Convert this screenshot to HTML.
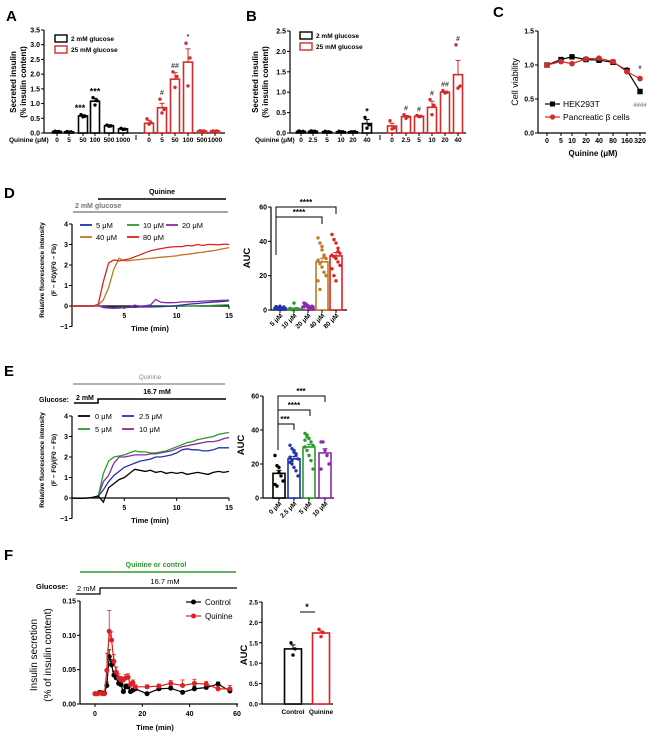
<!DOCTYPE html>
<html><head><meta charset="utf-8"><style>
html,body{margin:0;padding:0;background:#fff;}
svg{display:block;font-family:"Liberation Sans",Arial,sans-serif;}
</style></head><body>
<svg id="fig" width="669" height="739" viewBox="0 0 669 739">
<g font-weight="bold" font-size="15">
<text x="6" y="21">A</text>
<text x="246" y="21">B</text>
<text x="493" y="17">C</text>
<text x="4" y="198">D</text>
<text x="4" y="376">E</text>
<text x="4" y="560">F</text>
</g>
</svg>
<script>
// ---------- DATA ----------
const aDoses = ["0","5","50","100","500","1000"];
const aLow = [0.05,0.04,0.58,1.08,0.25,0.14];
const aLowErr = [0.02,0.01,0.04,0.1,0.03,0.02];
const aLowPts = [[0.06,0.05,0.04],[0.05,0.04,0.03],[0.62,0.57,0.55],[1.2,1.1,0.95],[0.27,0.24,0.23],[0.16,0.13,0.12]];
const aHigh = [0.33,0.86,1.83,2.41,0.07,0.07];
const aHighErr = [0.1,0.15,0.22,0.45,0.01,0.01];
const aHighPts = [[0.48,0.35,0.3],[1.15,0.8,0.68],[2.08,1.92,1.55],[3.05,2.55,1.6],[0.08,0.07,0.06],[0.07,0.07,0.06]];
const aLowSig = ["","","***","***","",""];
const aHighSig = ["","#","##","*","",""];

const bDoses = ["0","2.5","5","10","20","40"];
const bLow = [0.04,0.04,0.03,0.03,0.03,0.23];
const bLowErr = [0.01,0.01,0.01,0.01,0.01,0.1];
const bLowPts = [[0.05,0.04,0.03],[0.05,0.04,0.04],[0.04,0.03,0.03],[0.04,0.03,0.03],[0.03,0.03,0.03],[0.38,0.2,0.12]];
const bHigh = [0.17,0.4,0.41,0.63,1.0,1.43];
const bHighErr = [0.07,0.03,0.02,0.15,0.02,0.35];
const bHighPts = [[0.3,0.12,0.1],[0.45,0.4,0.36],[0.43,0.41,0.4],[0.82,0.68,0.45],[1.04,1.0,0.98],[2.16,1.15,1.1]];
const bLowSig = ["","","","","","*"];
const bHighSig = ["","#","#","#","##","#"];

const cDoses = ["0","5","10","20","40","80","160","320"];
const cHek = [1.0,1.08,1.12,1.08,1.07,1.04,0.92,0.61];
const cHekErr = [0.01,0.02,0.02,0.02,0.03,0.02,0.05,0.04];
const cBeta = [1.0,1.05,1.02,1.09,1.1,1.05,0.9,0.8];
const cBetaErr = [0.01,0.04,0.02,0.03,0.02,0.02,0.04,0.04];

const dTime = [0,0.5,1,1.5,2,2.5,3,3.5,4,4.5,5,5.5,6,6.5,7,7.5,8,8.5,9,9.5,10,10.5,11,11.5,12,12.5,13,13.5,14,14.5,15];
const d5 = [0,0,0,0,0,0.02,-0.04,-0.06,-0.07,-0.08,-0.08,-0.07,-0.06,-0.05,-0.05,-0.05,-0.04,-0.03,-0.02,0,0.02,0.05,0.08,0.1,0.12,0.15,0.17,0.19,0.21,0.23,0.25];
const d10 = [0,0,0,0,0,0.02,-0.03,-0.05,-0.06,-0.06,-0.06,-0.05,-0.05,-0.04,-0.04,-0.03,-0.03,-0.03,-0.02,-0.02,-0.01,-0.01,0,0,0.01,0.02,0.02,0.03,0.04,0.05,0.06];
const d20 = [0,0,0,0,0,0.03,-0.08,-0.1,-0.11,-0.1,-0.08,-0.06,0.05,-0.02,0.02,0.05,0.32,0.18,0.16,0.16,0.17,0.2,0.2,0.21,0.22,0.24,0.25,0.26,0.27,0.28,0.29];
const d40 = [0,0,0,0,0,0.05,0.3,0.9,1.8,2.33,2.2,2.21,2.25,2.27,2.3,2.32,2.35,2.38,2.4,2.42,2.45,2.5,2.52,2.55,2.6,2.62,2.67,2.7,2.75,2.8,2.85];
const d80 = [0,0,0,0,0,0.08,1.2,2.1,2.25,2.2,2.25,2.3,2.4,2.5,2.6,2.7,2.75,2.8,2.85,2.88,2.9,2.9,2.95,2.93,3.0,2.95,3.0,3.0,2.98,3.02,3.0];

const dAucCats = ["5 μM","10 μM","20 μM","40 μM","80 μM"];
const dAuc = [1.2,0.8,2.0,28,31.5];
const dAucErr = [0.3,0.3,0.4,2.2,2.0];
const dAucPts = [[2,1.5,1,0.5,1.8,1.2,0.7,2.2,1,0.5,1.5,0.8],[0.5,0.3,4,0.6,0.4,1,0.2,0.5,0.8,0.6],[4,3,2.5,1,0.8,2,3.5,1.5,0.5,2.2,1.8,3],[42,39,37,32,30,29,27,25,22,20,17,12,35,31],[44,41,39,36,33,32,31,30,28,26,24,20,17,34]];

const eTime = dTime;
const e0 = [0,-0.02,-0.02,0,0.03,0.1,-0.2,0.5,0.7,0.9,1.0,1.2,1.4,1.35,1.3,1.35,1.25,1.3,1.2,1.25,1.2,1.25,1.15,1.2,1.25,1.2,1.15,1.25,1.3,1.25,1.3];
const e25 = [0,-0.02,-0.02,0,0.03,0.08,0.4,0.8,1.1,1.3,1.5,1.6,1.7,1.8,1.85,1.9,2.0,2.0,2.05,2.1,2.2,2.35,2.4,2.35,2.35,2.3,2.3,2.35,2.45,2.45,2.45];
const e5 = [0,-0.02,-0.02,0,0.03,0.08,1.2,1.8,2.0,2.05,2.1,2.2,2.3,2.25,2.25,2.2,2.2,2.25,2.3,2.4,2.5,2.6,2.7,2.75,2.85,2.9,2.95,3.0,3.1,3.15,3.2];
const e10 = [0,-0.02,-0.02,0,0.03,0.08,0.8,1.1,1.7,2.0,2.0,2.05,2.1,2.1,2.1,2.15,2.15,2.2,2.25,2.3,2.4,2.5,2.55,2.6,2.65,2.7,2.75,2.75,2.8,2.9,2.95];

const eAucCats = ["0 μM","2.5 μM","5 μM","10 μM"];
const eAuc = [14.5,23,30,26.5];
const eAucErr = [1.8,1.5,1.6,2.5];
const eAucPts = [[25,19,15,13,10,8,7,18],[31,29,27,25,23,21,20,18,16,13,24,22,28,26],[38,37,35,33,31,30,28,25,22,17,34,36],[33,33,28,25,20,17]];

const fTime = [0,1,2,3,4,5,6,7,8,9,10,11,12,13,14,15,16,17,22,27,32,37,42,47,52,57];
const fCtrl = [0.015,0.015,0.017,0.016,0.016,0.027,0.069,0.057,0.042,0.038,0.03,0.028,0.018,0.025,0.025,0.018,0.02,0.022,0.015,0.022,0.023,0.017,0.022,0.024,0.029,0.019];
const fCtrlErr = [0.001,0.001,0.002,0.002,0.002,0.005,0.01,0.008,0.006,0.01,0.005,0.004,0.003,0.004,0.004,0.002,0.003,0.003,0.002,0.003,0.003,0.002,0.004,0.004,0.003,0.003];
const fQui = [0.015,0.015,0.016,0.015,0.015,0.049,0.106,0.093,0.062,0.046,0.038,0.035,0.035,0.038,0.039,0.028,0.031,0.025,0.025,0.026,0.03,0.027,0.03,0.029,0.022,0.022];
const fQuiErr = [0.001,0.001,0.002,0.002,0.002,0.025,0.03,0.012,0.01,0.008,0.006,0.005,0.004,0.005,0.005,0.004,0.004,0.003,0.003,0.003,0.004,0.008,0.006,0.004,0.004,0.005];
const fAucCats = ["Control","Quinine"];
const fAuc = [1.35,1.74];
const fAucErr = [0.1,0.05];
const fAucPts = [[1.5,1.35,1.2],[1.83,1.75,1.65]];

// ---------- HELPERS ----------
const svg = document.getElementById('fig');
const NS = 'http://www.w3.org/2000/svg';
function mk(tag, attrs, name, parent, txt){
  const e = document.createElementNS(NS, tag);
  for (const k in attrs) e.setAttribute(k, attrs[k]);
  
  
  if (txt !== undefined) e.textContent = txt;
  (parent || svg).appendChild(e);
  return e;
}
function lin(d0,d1,r0,r1){ return v => r0 + (v-d0)*(r1-r0)/(d1-d0); }
function line(x1,y1,x2,y2,name,st,w){ return mk('line',{x1,y1,x2,y2,stroke:st||'#000','stroke-width':w||1},name); }
function txt(x,y,s,name,o){ o=o||{}; return mk('text',{x,y,'font-size':o.fs||7,'font-weight':o.fw||'bold','text-anchor':o.a||'middle',fill:o.c||'#000',transform:o.r?`rotate(${o.r} ${x} ${y})`:''},name,null,s); }
function yAxis(x,y,ticks,labels,name,fs){
  line(x,y(ticks[0]),x,y(ticks[ticks.length-1]),name+'-line','#000',1.2);
  ticks.forEach((t,i)=>{ line(x-3,y(t),x,y(t),name+'-tick'); txt(x-4,y(t)+2.5,labels[i],name+'-tick-label',{a:'end',fs:fs||7}); });
}
function bars(xs, vals, errs, pts, y, col, w, name){
  vals.forEach((v,i)=>{
    const x = xs[i];
    mk('rect',{x:x-w/2,y:y(v),width:w,height:Math.max(0,y(0)-y(v)),fill:'#fff',stroke:col,'stroke-width':1.6},name+'-bar');
    line(x,y(v),x,y(v+errs[i]),name+'-error-bar',col,1);
    line(x-2.5,y(v+errs[i]),x+2.5,y(v+errs[i]),name+'-error-cap',col,1);
    const p = pts[i], n = p.length;
    p.forEach((pv,j)=>{
      const off = n<=3 ? [-2,2,0][j] : ((j%5)-2)*(w/6);
      mk('circle',{cx:x+off,cy:y(pv),r:1.7,fill:col},name+'-point');
    });
  });
}
function series(xs, vals, xf, yf, col, name, w){
  const d = vals.map((v,i)=>(i?'L':'M')+xf(xs[i]).toFixed(1)+' '+yf(v).toFixed(1)).join(' ');
  mk('path',{d,fill:'none',stroke:col,'stroke-width':w||1.3},name);
}

// ---------- PANEL A ----------
const yA = lin(0,3.5,133,30);
const aLowX = [57,69,83,95,109,123], aHighX = [149,162,175,188,202,215];
yAxis(44,yA,[0,0.5,1,1.5,2,2.5,3,3.5],["0.0","0.5","1.0","1.5","2.0","2.5","3.0","3.5"],'a-y-axis');
line(44,133,225,133,'a-x-axis','#000',1.2);
line(136,135,136,140,'a-axis-break');
bars(aLowX,aLow,aLowErr,aLowPts,yA,'#000',9,'a-2mm');
bars(aHighX,aHigh,aHighErr,aHighPts,yA,'#d42a2a',9,'a-25mm');
aDoses.forEach((d,i)=>{ txt(aLowX[i],142,d,'a-x-tick-label',{fs:6.5}); txt(aHighX[i],142,d,'a-x-tick-label',{fs:6.5}); line(aLowX[i],133,aLowX[i],136,'a-x-tick'); line(aHighX[i],133,aHighX[i],136,'a-x-tick'); });
aLowSig.forEach((s,i)=>{ if(s) txt(aLowX[i]-(i==2?3:0),yA(aLow[i]+aLowErr[i])-4,s,'a-significance',{fs:9}); });
aHighSig.forEach((s,i)=>{ if(s) txt(aHighX[i],yA(Math.max(...aHighPts[i],aHigh[i]+aHighErr[i]))-4,s,'a-significance',{fs:7,c:'#444'}); });
txt(9,142,'Quinine (μM)','a-x-title',{a:'start',fs:6.5});
txt(16,82,'Secreted insulin','a-y-title',{r:-90,fs:8});
txt(26,82,'(% insulin content)','a-y-title',{r:-90,fs:8});
mk('rect',{x:55,y:35,width:12,height:7,fill:'#fff',stroke:'#000','stroke-width':1.4},'a-legend-2mm-swatch');
txt(71,41,'2 mM glucose','a-legend-2mm',{a:'start',fs:6.5});
mk('rect',{x:55,y:46,width:12,height:7,fill:'#fff',stroke:'#d42a2a','stroke-width':1.4},'a-legend-25mm-swatch');
txt(71,52,'25 mM glucose','a-legend-25mm',{a:'start',fs:6.5});

// ---------- PANEL B ----------
const yB = lin(0,2.5,133,31);
const bLowX = [301,313,327,341,353,367], bHighX = [392,406,419,432,445,458];
yAxis(290,yB,[0,0.5,1,1.5,2,2.5],["0.0","0.5","1.0","1.5","2.0","2.5"],'b-y-axis');
line(290,133,466,133,'b-x-axis','#000',1.2);
line(380,135,380,140,'b-axis-break');
bars(bLowX,bLow,bLowErr,bLowPts,yB,'#000',9,'b-2mm');
bars(bHighX,bHigh,bHighErr,bHighPts,yB,'#d42a2a',9,'b-25mm');
bDoses.forEach((d,i)=>{ txt(bLowX[i],142,d,'b-x-tick-label',{fs:6.5}); txt(bHighX[i],142,d,'b-x-tick-label',{fs:6.5}); line(bLowX[i],133,bLowX[i],136,'b-x-tick'); line(bHighX[i],133,bHighX[i],136,'b-x-tick'); });
bLowSig.forEach((s,i)=>{ if(s) txt(bLowX[i],yB(Math.max(...bLowPts[i]))-3,s,'b-significance',{fs:9}); });
bHighSig.forEach((s,i)=>{ if(s) txt(bHighX[i],yB(Math.max(...bHighPts[i],bHigh[i]+bHighErr[i]))-4,s,'b-significance',{fs:7,c:'#444'}); });
txt(255,142,'Quinine (μM)','b-x-title',{a:'start',fs:6.5});
txt(258,82,'Secreted insulin','b-y-title',{r:-90,fs:8});
txt(268,82,'(% insulin content)','b-y-title',{r:-90,fs:8});
mk('rect',{x:300,y:32,width:12,height:7,fill:'#fff',stroke:'#000','stroke-width':1.4},'b-legend-2mm-swatch');
txt(316,38,'2 mM glucose','b-legend-2mm',{a:'start',fs:6.5});
mk('rect',{x:300,y:43,width:12,height:7,fill:'#fff',stroke:'#d42a2a','stroke-width':1.4},'b-legend-25mm-swatch');
txt(316,49,'25 mM glucose','b-legend-25mm',{a:'start',fs:6.5});

// ---------- PANEL C ----------
const yC = lin(0,1.5,133,31);
const cX = [547,561,572,586,599,613,627,640];
const xC = i => cX[i];
yAxis(538,yC,[0,0.5,1,1.5],["0.0","0.5","1.0","1.5"],'c-y-axis');
line(538,133,646,133,'c-x-axis','#000',1.2);
cDoses.forEach((d,i)=>{ line(cX[i],133,cX[i],136,'c-x-tick'); txt(cX[i],143,d,'c-x-tick-label',{fs:7}); });
function lineSeries(vals, errs, col, name, marker){
  series(cDoses.map((_,i)=>i), vals, xC, yC, col, name+'-line', 1.2);
  vals.forEach((v,i)=>{
    line(cX[i],yC(v-errs[i]),cX[i],yC(v+errs[i]),name+'-error-bar',col,1);
    if(marker==='sq') mk('rect',{x:cX[i]-2.7,y:yC(v)-2.7,width:5.4,height:5.4,fill:col},name+'-marker');
    else mk('circle',{cx:cX[i],cy:yC(v),r:2.8,fill:col},name+'-marker');
  });
}
lineSeries(cHek,cHekErr,'#000','c-hek293t','sq');
lineSeries(cBeta,cBetaErr,'#d42a2a','c-beta-cells','c');
txt(640,72,'*','c-significance',{fs:9,fw:'normal'});
txt(640,107,'####','c-significance-hash',{fs:6,fw:'normal',c:'#555'});
txt(518,82,'Cell viability','c-y-title',{r:-90,fs:9,fw:'normal'});
txt(593,156,'Quinine (μM)','c-x-title',{fs:8});
line(545,104,560,104,'c-legend-hek-line','#000',1.2);
mk('rect',{x:550,y:101.5,width:5,height:5,fill:'#000'},'c-legend-hek-marker');
txt(563,107,'HEK293T','c-legend-hek',{a:'start',fs:8.5,fw:'normal'});
line(545,117,560,117,'c-legend-beta-line','#d42a2a',1.2);
mk('circle',{cx:552.5,cy:117,r:2.6,fill:'#d42a2a'},'c-legend-beta-marker');
txt(563,120,'Pancreatic β cells','c-legend-beta',{a:'start',fs:8.5,fw:'normal'});

// ---------- PANEL D ----------
const xD = lin(0,15,72,229), yD = lin(0,4,306,224);
yAxis(72,yD,[-1,0,1,2,3,4],["−1","0","1","2","3","4"],'d-y-axis',7);
line(72,306,229,306,'d-x-axis','#000',1.2);
[5,10,15].forEach(t=>{ line(xD(t),306,xD(t),309,'d-x-tick'); txt(xD(t),318,String(t),'d-x-tick-label'); });
line(72,306,229,306,'d-0um-line','#000',1);
series(dTime,d10,xD,yD,'#2a9a2a','d-10um-line');
series(dTime,d5,xD,yD,'#2233aa','d-5um-line');
series(dTime,d20,xD,yD,'#8a2aa8','d-20um-line');
series(dTime,d40,xD,yD,'#c07a20','d-40um-line');
series(dTime,d80,xD,yD,'#e02020','d-80um-line');
txt(150,331,'Time (min)','d-x-title',{fs:7.5});
txt(44,270,'Relative fluorescence intensity','d-y-title',{r:-90,fs:6.5});
txt(56,270,'(F − F0)/(F0 − Fb)','d-y-title',{r:-90,fs:6.5});
line(98,199,226,199,'d-quinine-bar','#000',1.5);
txt(162,194,'Quinine','d-quinine-label',{fs:7});
line(73,212,228,212,'d-glucose-bar','#888',1.5);
txt(75,208,'2 mM glucose','d-glucose-label',{a:'start',fs:7,c:'#777'});
[[80,225,'#2233aa','5 μM'],[127,225,'#2a9a2a','10 μM'],[166,225,'#8a2aa8','20 μM'],[80,237,'#c07a20','40 μM'],[127,237,'#e02020','80 μM']].forEach(l=>{
  line(l[0],l[1],l[0]+12,l[1],'d-legend-swatch',l[2],1.8);
  txt(l[0]+16,l[1]+3,l[3],'d-legend-label',{a:'start',fs:7.5,fw:'normal'});
});
// D AUC
const yDa = lin(0,60,310,207);
const dAx = [280,294,308,322,336];
yAxis(271,yDa,[0,20,40,60],["0","20","40","60"],'d-auc-y-axis');
line(271,310,347,310,'d-auc-x-axis','#000',1.2);
const dCols = ['#2233aa','#2a9a2a','#8a2aa8','#c07a20','#e02020'];
dAucCats.forEach((c,i)=>{
  bars([dAx[i]],[dAuc[i]],[dAucErr[i]],[dAucPts[i]],yDa,dCols[i],12,'d-auc');
  line(dAx[i],310,dAx[i],313,'d-auc-x-tick');
  txt(dAx[i]+3,316,c,'d-auc-x-tick-label',{a:'end',fs:6.5,r:-45});
});
txt(250,258,'AUC','d-auc-y-title',{r:-90,fs:9.5});
mk('path',{d:'M276 255 V207 H336 V214',fill:'none',stroke:'#000','stroke-width':1},'d-auc-bracket-80');
mk('path',{d:'M276 217 H322 V224',fill:'none',stroke:'#000','stroke-width':1},'d-auc-bracket-40');
txt(306,205,'****','d-auc-significance',{fs:8});
txt(299,215,'****','d-auc-significance',{fs:8});

// ---------- PANEL E ----------
const xE = lin(0,15,72,229), yE = lin(0,4,498,416);
yAxis(72,yE,[-1,0,1,2,3,4],["−1","0","1","2","3","4"],'e-y-axis',7);
line(72,498,229,498,'e-x-axis','#000',1.2);
[5,10,15].forEach(t=>{ line(xE(t),498,xE(t),501,'e-x-tick'); txt(xE(t),510,String(t),'e-x-tick-label'); });
series(eTime,e25,xE,yE,'#2233aa','e-2-5um-line');
series(eTime,e10,xE,yE,'#8a2aa8','e-10um-line');
series(eTime,e5,xE,yE,'#2a9a2a','e-5um-line');
series(eTime,e0,xE,yE,'#000','e-0um-line');
txt(150,523,'Time (min)','e-x-title',{fs:7.5});
txt(44,460,'Relative fluorescence intensity','e-y-title',{r:-90,fs:6.5});
txt(56,460,'(F − F0)/(F0 − Fb)','e-y-title',{r:-90,fs:6.5});
line(73,384,225,384,'e-quinine-bar','#999',1.5);
txt(150,379,'Quinine','e-quinine-label',{fs:6.5,fw:'normal',c:'#888'});
txt(39,402,'Glucose:','e-glucose-label',{a:'start',fs:7});
mk('path',{d:'M74 403 H98 V399 H226',fill:'none',stroke:'#000','stroke-width':1.5},'e-glucose-bar');
txt(76,400,'2 mM','e-glucose-2mm',{a:'start',fs:7});
txt(157,394,'16.7 mM','e-glucose-16mm',{fs:7});
[[78,416,'#000','0 μM'],[122,416,'#2233aa','2.5 μM'],[78,429,'#2a9a2a','5 μM'],[122,429,'#8a2aa8','10 μM']].forEach(l=>{
  line(l[0],l[1],l[0]+12,l[1],'e-legend-swatch',l[2],1.8);
  txt(l[0]+17,l[1]+3,l[3],'e-legend-label',{a:'start',fs:7.5,fw:'normal'});
});
// E AUC
const yEa = lin(0,60,498,396);
const eAx = [279,294,309,325];
yAxis(263,yEa,[0,20,40,60],["0","20","40","60"],'e-auc-y-axis');
line(263,498,334,498,'e-auc-x-axis','#000',1.2);
const eCols = ['#000','#2233aa','#2a9a2a','#8a2aa8'];
eAucCats.forEach((c,i)=>{
  bars([eAx[i]],[eAuc[i]],[eAucErr[i]],[eAucPts[i]],yEa,eCols[i],12,'e-auc');
  line(eAx[i],498,eAx[i],501,'e-auc-x-tick');
  txt(eAx[i]+3,504,c,'e-auc-x-tick-label',{a:'end',fs:6.5,r:-45});
});
txt(244,445,'AUC','e-auc-y-title',{r:-90,fs:9.5});
mk('path',{d:'M278 450 V396 H325 V402',fill:'none',stroke:'#000','stroke-width':1},'e-auc-bracket-10');
mk('path',{d:'M278 410 H310 V416',fill:'none',stroke:'#000','stroke-width':1},'e-auc-bracket-5');
mk('path',{d:'M278 424 H294 V430',fill:'none',stroke:'#000','stroke-width':1},'e-auc-bracket-2-5');
txt(301,394,'***','e-auc-significance',{fs:8});
txt(294,408,'****','e-auc-significance',{fs:8});
txt(285,422,'***','e-auc-significance',{fs:8});

// ---------- PANEL F ----------
const xF = lin(0,60,95,237), yF = lin(0,0.15,704,601);
yAxis(80,yF,[0,0.05,0.1,0.15],["0.00","0.05","0.10","0.15"],'f-y-axis');
line(80,704,238,704,'f-x-axis','#000',1.2);
[0,20,40,60].forEach(t=>{ line(xF(t),704,xF(t),707,'f-x-tick'); txt(xF(t),716,String(t),'f-x-tick-label'); });
function fSeries(vals, errs, col, name){
  vals.forEach((v,i)=>{ line(xF(fTime[i]),yF(v),xF(fTime[i]),yF(v+errs[i]),name+'-error-bar',col,0.8); line(xF(fTime[i])-2,yF(v+errs[i]),xF(fTime[i])+2,yF(v+errs[i]),name+'-error-cap',col,0.8); });
  series(fTime, vals, xF, yF, col, name+'-line', 1.2);
  vals.forEach((v,i)=>mk('circle',{cx:xF(fTime[i]),cy:yF(v),r:2.5,fill:col},name+'-marker'));
}
fSeries(fCtrl,fCtrlErr,'#000','f-control');
fSeries(fQui,fQuiErr,'#e02020','f-quinine');
txt(155,730,'Time (min)','f-x-title',{fs:7.5});
txt(37,655,'Insulin secretion','f-y-title',{r:-90,fs:10,fw:'normal'});
txt(51,655,'(% of insulin content)','f-y-title',{r:-90,fs:10,fw:'normal'});
line(80,572,236,572,'f-quinine-bar','#2a9a2a',1.5);
txt(156,567,'Quinine or control','f-quinine-label',{fs:7,c:'#2a9a2a'});
txt(36,589,'Glucose:','f-glucose-label',{a:'start',fs:7.5});
mk('path',{d:'M76 594 H100 V588 H237',fill:'none',stroke:'#000','stroke-width':1.2},'f-glucose-bar');
txt(77,591,'2 mM','f-glucose-2mm',{a:'start',fs:7.5,fw:'normal'});
txt(165,584,'16.7 mM','f-glucose-16mm',{fs:7.5,fw:'normal'});
line(186,602,201,602,'f-legend-control-line','#000',1.2);
mk('circle',{cx:193.5,cy:602,r:2.5,fill:'#000'},'f-legend-control-marker');
txt(205,605,'Control','f-legend-control',{a:'start',fs:8,fw:'normal'});
line(186,616,201,616,'f-legend-quinine-line','#e02020',1.2);
mk('circle',{cx:193.5,cy:616,r:2.5,fill:'#e02020'},'f-legend-quinine-marker');
txt(205,619,'Quinine','f-legend-quinine',{a:'start',fs:8,fw:'normal'});
// F AUC
const yFa = lin(0,2.5,704,602);
const fAx = [293,321];
yAxis(262,yFa,[0,0.5,1,1.5,2,2.5],["0.0","0.5","1.0","1.5","2.0","2.5"],'f-auc-y-axis',6.5);
line(262,704,333,704,'f-auc-x-axis','#000',1.2);
const fCols = ['#000','#e02020'];
fAucCats.forEach((c,i)=>{
  bars([fAx[i]],[fAuc[i]],[fAucErr[i]],[fAucPts[i]],yFa,fCols[i],17,'f-auc');
  txt(fAx[i],714,c,'f-auc-x-tick-label',{fs:6.5});
});
txt(247,655,'AUC','f-auc-y-title',{r:-90,fs:9.5});
line(300,612,315,612,'f-auc-bracket');
txt(307,610,'*','f-auc-significance',{fs:9});
</script>
</body></html>
